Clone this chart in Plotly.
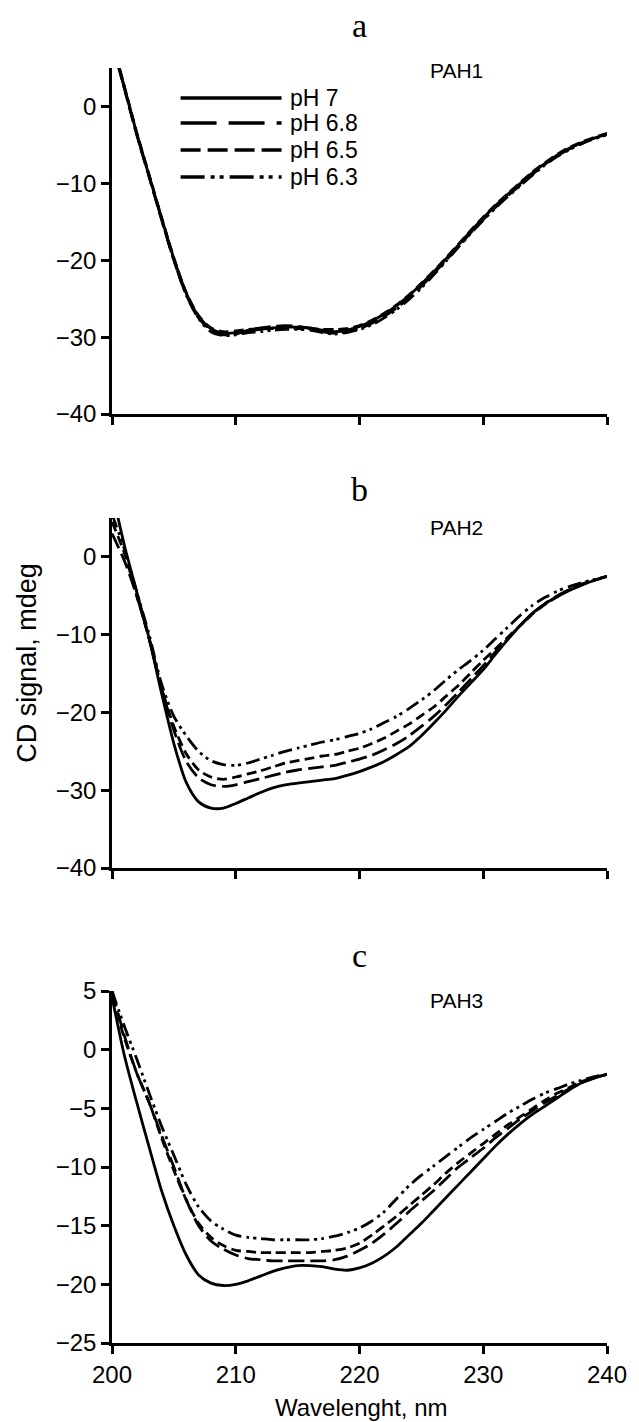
import plotly.graph_objects as go

wavelength = list(range(200, 241))

series_names = ["pH 7", "pH 6.8", "pH 6.5", "pH 6.3"]
panel_letters = ["a", "b", "c"]
panel_labels = ["PAH1", "PAH2", "PAH3"]
x_ticks = [200, 210, 220, 230, 240]
y_ticks_ab = [-40, -30, -20, -10, 0]
y_ticks_c = [-25, -20, -15, -10, -5, 0, 5]

# Panel a (PAH1)
a_ph70 = [8.5, 2.5, -3.5, -9.0, -14.5, -19.8, -24.3, -27.3, -28.9, -29.5, -29.4, -29.2, -29.0, -28.8, -28.7,
          -28.7, -28.8, -29.1, -29.3, -29.1, -28.6, -27.9, -27.0, -25.9, -24.6, -23.1, -21.5, -19.8, -18.0,
          -16.2, -14.5, -12.9, -11.4, -10.0, -8.6, -7.4, -6.3, -5.4, -4.7, -4.1, -3.6]
a_ph68 = [8.3, 2.3, -3.7, -9.2, -14.7, -20.0, -24.5, -27.5, -29.1, -29.7, -29.6, -29.1, -28.8, -28.6, -28.5,
          -28.6, -28.9, -29.3, -29.5, -29.3, -28.9, -28.2, -27.3, -26.2, -24.9, -23.4, -21.7, -20.0, -18.2,
          -16.4, -14.7, -13.1, -11.6, -10.2, -8.8, -7.5, -6.4, -5.5, -4.8, -4.1, -3.6]
a_ph65 = [8.6, 2.6, -3.4, -8.9, -14.4, -19.7, -24.2, -27.2, -28.8, -29.3, -29.2, -29.0, -28.9, -28.9, -28.9,
          -28.9, -28.9, -29.0, -29.0, -28.9, -28.5, -27.8, -26.9, -25.8, -24.5, -23.0, -21.4, -19.7, -17.9,
          -16.1, -14.4, -12.8, -11.3, -9.9, -8.5, -7.3, -6.2, -5.3, -4.6, -4.0, -3.5]
a_ph63 = [8.4, 2.4, -3.6, -9.1, -14.6, -20.0, -24.5, -27.6, -29.3, -29.8, -29.7, -29.4, -29.3, -29.1, -29.0,
          -29.0, -29.1, -29.4, -29.6, -29.4, -29.0, -28.4, -27.5, -26.4, -25.1, -23.6, -21.9, -20.1, -18.3,
          -16.5, -14.8, -13.2, -11.7, -10.3, -8.9, -7.6, -6.5, -5.6, -4.8, -4.2, -3.7]

# Panel b (PAH2)
b_ph70 = [8.5, 1.5, -4.5, -10.5, -17.5, -24.0, -29.0, -31.5, -32.3, -32.3, -31.7, -31.0, -30.3, -29.7, -29.3,
          -29.1, -28.9, -28.7, -28.5, -28.1, -27.6, -27.0, -26.3, -25.4, -24.4, -23.0, -21.4, -19.7, -17.9,
          -16.2, -14.5, -12.5, -10.6, -8.8, -7.2, -6.0, -5.1, -4.3, -3.6, -3.0, -2.5]
b_ph68 = [3.0, -0.5, -5.0, -10.5, -16.8, -22.3, -26.3, -28.4, -29.3, -29.5, -29.3, -28.9, -28.5, -28.1, -27.7,
          -27.4, -27.2, -27.0, -26.8, -26.4, -26.0, -25.5, -24.8, -24.0, -23.0, -21.8, -20.5, -19.0, -17.4,
          -15.7, -14.0, -12.2, -10.5, -8.8, -7.3, -6.0, -5.0, -4.2, -3.5, -3.0, -2.5]
b_ph65 = [4.5, 0.5, -5.0, -10.5, -16.8, -21.8, -25.3, -27.4, -28.3, -28.6, -28.3, -27.9, -27.5, -27.0, -26.5,
          -26.2, -25.9, -25.6, -25.4, -25.0, -24.6, -24.0, -23.3, -22.4, -21.5, -20.4, -19.3, -17.9, -16.5,
          -14.9, -13.3, -11.8, -10.3, -8.8, -7.3, -6.1, -5.1, -4.2, -3.5, -3.0, -2.5]
b_ph63 = [5.5, 1.0, -4.5, -10.0, -16.3, -20.5, -23.0, -25.0, -26.2, -26.7, -26.8, -26.5, -26.0, -25.5, -25.0,
          -24.6, -24.2, -23.8, -23.5, -23.1, -22.7, -22.1, -21.3, -20.5, -19.5, -18.4, -17.2, -15.8, -14.5,
          -13.3, -12.0, -10.5, -9.0, -7.5, -6.2, -5.2, -4.4, -3.8, -3.3, -2.9, -2.5]

# Panel c (PAH3)
c_ph70 = [4.5, -0.5, -4.5, -8.3, -12.0, -15.0, -17.5, -19.2, -19.9, -20.1, -20.0, -19.7, -19.3, -18.9, -18.6,
          -18.4, -18.4, -18.5, -18.7, -18.8, -18.6, -18.2, -17.6, -16.8, -15.8, -14.8, -13.7, -12.6, -11.5,
          -10.4, -9.3, -8.2, -7.2, -6.3, -5.5, -4.8, -4.1, -3.4, -2.8, -2.4, -2.1]
c_ph68 = [5.0, 1.2, -2.0, -4.5, -7.3, -10.0, -12.8, -15.0, -16.3, -17.0, -17.5, -17.8, -17.9, -18.0, -18.0,
          -18.0, -18.0, -18.0, -17.9, -17.6, -17.1, -16.5, -15.7, -14.8, -13.8, -12.9, -12.0, -11.0, -10.0,
          -9.2, -8.4, -7.5, -6.7, -5.9, -5.2, -4.5, -3.9, -3.3, -2.8, -2.4, -2.1]
c_ph65 = [4.5, 1.0, -2.0, -4.5, -7.5, -10.3, -12.8, -14.8, -16.0, -16.7, -17.1, -17.2, -17.3, -17.3, -17.3,
          -17.3, -17.3, -17.2, -17.1, -16.9, -16.5, -15.8, -15.0, -14.2, -13.3, -12.4, -11.5, -10.5, -9.6,
          -8.8, -8.0, -7.2, -6.4, -5.7, -5.0, -4.3, -3.7, -3.2, -2.7, -2.4, -2.1]
c_ph63 = [5.0, 2.0, -0.8, -3.7, -6.5, -9.0, -11.5, -13.4, -14.6, -15.3, -15.8, -16.0, -16.1, -16.2, -16.2,
          -16.2, -16.2, -16.1, -15.9, -15.6, -15.2, -14.6, -13.8, -12.7, -11.6, -10.7, -9.9, -9.1, -8.3,
          -7.5, -6.8, -6.1, -5.4, -4.8, -4.2, -3.7, -3.3, -2.9, -2.6, -2.3, -2.1]

panels = [
    [a_ph70, a_ph68, a_ph65, a_ph63],
    [b_ph70, b_ph68, b_ph65, b_ph63],
    [c_ph70, c_ph68, c_ph65, c_ph63],
]

curve_dash = ["solid", "16px,6px", "10px,5px", "14px,5px,3px,4px,3px,5px"]
legend_dash = ["solid", "36px,12px", "20px,7px", "24px,6px,4px,5px,4px,6px"]

W, H = 639, 1422
ML, MR, MT, MB = 112, 22, 68, 79
plot_h = H - MT - MB
plot_w = W - ML - MR


def py(ypx):
    return (H - MB - ypx) / plot_h


def px(xpx):
    return (xpx - ML) / plot_w


domains = [[py(414), 1.0], [py(868), py(518)], [0.0, py(991)]]
y_ranges = [[-40, 5], [-40, 5], [-25, 5]]
y_tickvals = [y_ticks_ab, y_ticks_ab, y_ticks_c]

fig = go.Figure()
sans = "Liberation Sans, Arial, sans-serif"
tick_font = dict(family=sans, size=24, color="black")

axis_layout = {}
for i, series in enumerate(panels):
    xa = "x" if i == 0 else f"x{i+1}"
    ya = "y" if i == 0 else f"y{i+1}"
    for j, vals in enumerate(series):
        fig.add_trace(go.Scatter(
            x=wavelength, y=vals, mode="lines", name=series_names[j],
            line=dict(color="black", width=2.8, dash=curve_dash[j], shape="spline", smoothing=0.8),
            xaxis=xa, yaxis=ya, showlegend=False,
        ))
    xkey = "xaxis" if i == 0 else f"xaxis{i+1}"
    ykey = "yaxis" if i == 0 else f"yaxis{i+1}"
    axis_layout[xkey] = dict(
        domain=[0, 1], anchor=ya, range=[200, 240], tickvals=x_ticks,
        showticklabels=(i == 2), showline=True, linecolor="black", linewidth=2.5,
        ticks="outside", ticklen=8, tickwidth=2.5, tickcolor="black",
        showgrid=False, zeroline=False, tickfont=tick_font,
    )
    axis_layout[ykey] = dict(
        domain=domains[i], anchor=xa, range=y_ranges[i], tickvals=y_tickvals[i],
        showline=True, linecolor="black", linewidth=2.5,
        ticks="outside", ticklen=8, tickwidth=2.5, tickcolor="black",
        showgrid=False, zeroline=False, tickfont=tick_font,
    )

annotations = []
letter_y = [25, 490, 955]
label_y = [70, 527, 1000]
for i in range(3):
    annotations.append(dict(
        text=panel_letters[i], xref="paper", yref="paper", x=px(364), y=py(letter_y[i]),
        xanchor="center", yanchor="middle", showarrow=False,
        font=dict(family="Liberation Serif, Times New Roman, serif", size=34, color="black"),
    ))
    annotations.append(dict(
        text=panel_labels[i], xref="paper", yref="paper", x=px(463), y=py(label_y[i]),
        xanchor="center", yanchor="middle", showarrow=False,
        font=dict(family=sans, size=21, color="black"),
    ))

# legend drawn inside panel a
legend_rows = [98, 123, 150, 177]
shapes = []
for j, name in enumerate(series_names):
    shapes.append(dict(
        type="line", xref="paper", yref="paper",
        x0=px(182), x1=px(285), y0=py(legend_rows[j]), y1=py(legend_rows[j]),
        line=dict(color="black", width=3.5, dash=legend_dash[j]),
    ))
    annotations.append(dict(
        text=name, xref="paper", yref="paper", x=px(292), y=py(legend_rows[j]),
        xanchor="left", yanchor="middle", showarrow=False, height=24,
        font=dict(family=sans, size=23, color="black"),
    ))

annotations.append(dict(
    text="CD signal, mdeg", xref="paper", yref="paper", x=px(25), y=py(663),
    xanchor="center", yanchor="middle", textangle=-90, showarrow=False,
    font=dict(family=sans, size=27, color="black"),
))
annotations.append(dict(
    text="Wavelenght, nm", xref="paper", yref="paper", x=px(367), y=py(1407),
    xanchor="center", yanchor="middle", showarrow=False,
    font=dict(family=sans, size=24, color="black"),
))

fig.update_layout(
    width=W, height=H,
    margin=dict(l=ML, r=MR, t=MT, b=MB),
    paper_bgcolor="white", plot_bgcolor="white",
    showlegend=False,
    annotations=annotations, shapes=shapes,
    **axis_layout,
)

fig.write_html(
    "out.html",
    config={"displayModeBar": False},
    post_script="document.body.style.margin='0';document.body.style.padding='0';document.body.style.overflow='hidden';",
)
